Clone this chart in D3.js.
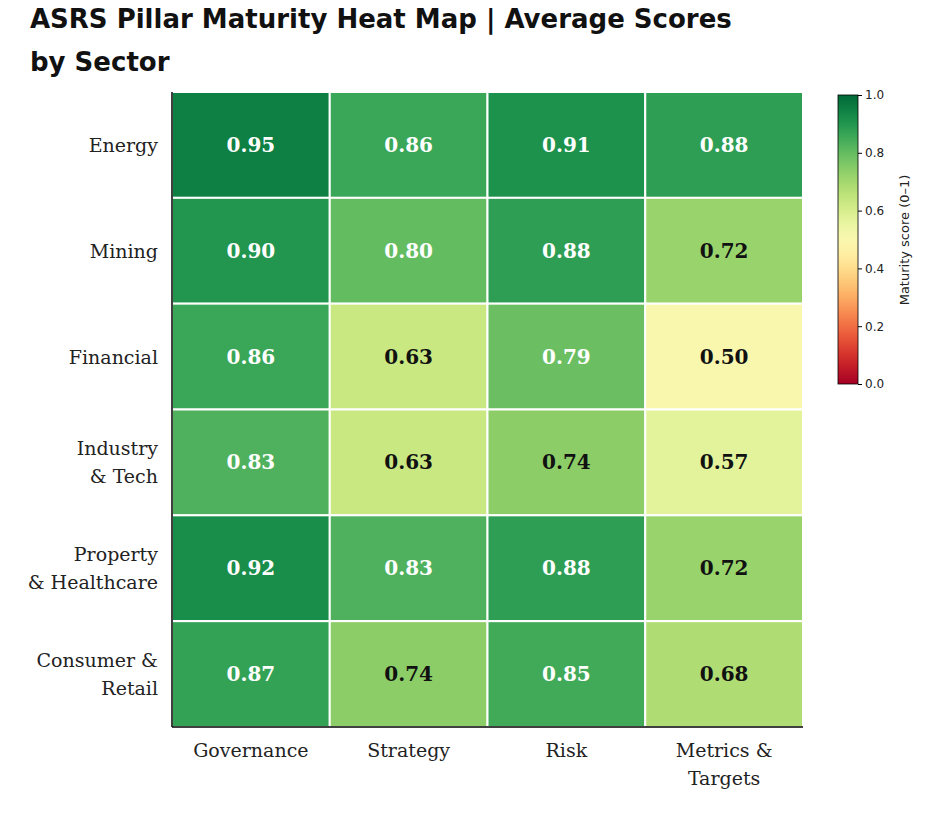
<!DOCTYPE html>
<html><head><meta charset="utf-8">
<script src="https://cdn.jsdelivr.net/npm/d3@7/dist/d3.min.js"></script>
<style>body{margin:0;background:#fff}</style>
</head><body><svg id="c" width="933" height="826"></svg>
<script>
const sectors = [['Energy'], ['Mining'], ['Financial'], ['Industry', '& Tech'], ['Property', '& Healthcare'], ['Consumer &', 'Retail']];
const pillars = [['Governance'], ['Strategy'], ['Risk'], ['Metrics &', 'Targets']];
const scores = [
  [0.95, 0.86, 0.91, 0.88],
  [0.90, 0.80, 0.88, 0.72],
  [0.86, 0.63, 0.79, 0.50],
  [0.83, 0.63, 0.74, 0.57],
  [0.92, 0.83, 0.88, 0.72],
  [0.87, 0.74, 0.85, 0.68],
];
const cbTicks = [0, 0.2, 0.4, 0.6, 0.8, 1.0];

const svg = d3.select('#c');
const serif = 'DejaVu Serif, serif';
svg.append('text').attr('x', 30).attr('y', 28).attr('font-family', 'DejaVu Sans, sans-serif').attr('font-weight', 'bold').attr('font-size', 26).attr('fill', '#111').text('ASRS Pillar Maturity Heat Map | Average Scores');
svg.append('text').attr('x', 30).attr('y', 71).attr('font-family', 'DejaVu Sans, sans-serif').attr('font-weight', 'bold').attr('font-size', 26).attr('fill', '#111').text('by Sector');

const x = d3.scaleBand().domain(d3.range(pillars.length)).range([172, 803]);
const y = d3.scaleBand().domain(d3.range(sectors.length)).range([92, 727]);
const color = (v) => d3.interpolateRdYlGn(v);

const cells = [];
scores.forEach((row, i) => row.forEach((v, j) => cells.push({ i, j, v })));
const g = svg.append('g');
g.selectAll('rect').data(cells).join('rect')
  .attr('x', (d) => x(d.j)).attr('y', (d) => y(d.i)).attr('width', x.bandwidth()).attr('height', y.bandwidth())
  .attr('fill', (d) => color(d.v)).attr('stroke', '#fff').attr('stroke-width', 2);
g.selectAll('text').data(cells).join('text')
  .attr('x', (d) => x(d.j) + x.bandwidth() / 2).attr('y', (d) => y(d.i) + y.bandwidth() / 2 + 7)
  .attr('text-anchor', 'middle').attr('font-family', serif).attr('font-weight', 'bold').attr('font-size', 20)
  .attr('fill', (d) => d.v >= 0.75 ? '#fff' : '#111').text((d) => d.v.toFixed(2));

svg.append('line').attr('x1', 172).attr('x2', 172).attr('y1', 92).attr('y2', 727).attr('stroke', '#000').attr('stroke-width', 1.5);
svg.append('line').attr('x1', 172).attr('x2', 803).attr('y1', 727).attr('y2', 727).attr('stroke', '#000').attr('stroke-width', 1.5);

sectors.forEach((lines, i) => {
  const t = svg.append('text').attr('text-anchor', 'end').attr('font-family', serif).attr('font-size', 19).attr('fill', '#222');
  const cy = y(i) + y.bandwidth() / 2 + 7 - (lines.length - 1) * 14;
  lines.forEach((s, k) => t.append('tspan').attr('x', 158).attr('y', cy + k * 28).text(s));
});
pillars.forEach((lines, j) => {
  const t = svg.append('text').attr('text-anchor', 'middle').attr('font-family', serif).attr('font-size', 19).attr('fill', '#222');
  lines.forEach((s, k) => t.append('tspan').attr('x', x(j) + x.bandwidth() / 2).attr('y', 757 + k * 28).text(s));
});

// colorbar
const cb = d3.scaleLinear().domain([0, 1]).range([384, 95]);
const defs = svg.append('defs');
const grad = defs.append('linearGradient').attr('id', 'cbg').attr('x1', 0).attr('x2', 0).attr('y1', 1).attr('y2', 0);
d3.range(0, 1.001, 0.05).forEach((t) => grad.append('stop').attr('offset', t).attr('stop-color', color(t)));
svg.append('rect').attr('x', 838).attr('y', 95).attr('width', 20).attr('height', 289).attr('fill', 'url(#cbg)').attr('stroke', '#000').attr('stroke-width', 0.8);
const ax = svg.append('g').attr('transform', 'translate(858,0)').call(d3.axisRight(cb).tickValues(cbTicks).tickFormat(d3.format('.1f')).tickSize(4));
ax.select('.domain').remove();
ax.selectAll('text').attr('font-family', 'DejaVu Sans, sans-serif').attr('font-size', 12).attr('fill', '#222');
svg.append('text').attr('transform', 'translate(909,240) rotate(-90)').attr('text-anchor', 'middle')
  .attr('font-family', 'DejaVu Sans, sans-serif').attr('font-size', 13).attr('fill', '#222').text('Maturity score (0–1)');
</script></body></html>
